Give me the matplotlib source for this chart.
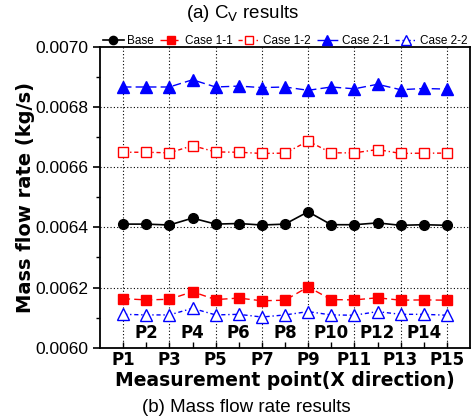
import matplotlib
matplotlib.use("Agg")
import matplotlib.pyplot as plt
import numpy as np

points = list(range(1, 16))
point_labels = [f"P{i}" for i in points]
base = [0.006411, 0.006411, 0.006408, 0.006431, 0.006411, 0.006413, 0.006408, 0.006411,
        0.006452, 0.006409, 0.006409, 0.006415, 0.006407, 0.006409, 0.006407]
case11 = [0.006163, 0.006159, 0.006161, 0.006186, 0.006160, 0.006165, 0.006156, 0.006158,
          0.006202, 0.006160, 0.006159, 0.006166, 0.006158, 0.006159, 0.006158]
case12 = [0.006650, 0.006650, 0.006648, 0.006672, 0.006651, 0.006650, 0.006646, 0.006647,
          0.006687, 0.006648, 0.006648, 0.006659, 0.006646, 0.006647, 0.006647]
case21 = [0.006867, 0.006867, 0.006867, 0.006891, 0.006867, 0.006870, 0.006865, 0.006867,
          0.006856, 0.006867, 0.006861, 0.006876, 0.006858, 0.006862, 0.006860]
case22 = [0.006111, 0.006109, 0.006109, 0.006131, 0.006109, 0.006111, 0.006102, 0.006109,
          0.006120, 0.006109, 0.006108, 0.006120, 0.006111, 0.006111, 0.006108]
yticks = [0.0060, 0.0062, 0.0064, 0.0066, 0.0068, 0.0070]

fig = plt.figure(figsize=(4.76, 4.18), dpi=100)
ax = fig.add_axes([100/476, 1-347.7/418, 370/476, 300.7/418])

ax.plot(points, base, color="black", ls="-", lw=1.2, marker="o", ms=7, label="Base")
ax.plot(points, case11, color="red", ls=(0, (5, 3)), lw=1.0, marker="s", ms=6.5, label="Case 1-1")
ax.plot(points, case12, color="red", ls=(0, (3, 2, 1, 2)), lw=1.0, marker="s", ms=6.5,
        mfc="white", mec="red", label="Case 1-2")
ax.plot(points, case21, color="blue", ls=(0, (6, 3)), lw=1.0, marker="^", ms=8, label="Case 2-1")
ax.plot(points, case22, color="blue", ls=(0, (3, 2, 1, 2)), lw=1.0, marker="^", ms=8,
        mfc="white", mec="blue", label="Case 2-2")

ax.set_xlim(0, 16)
ax.set_ylim(0.0060, 0.0070)
ax.set_yticks(yticks)
ax.set_yticklabels([f"{v:.4f}" for v in yticks], fontsize=12.5, family="Liberation Sans")
ax.set_yticks(np.arange(0.0061, 0.0070, 0.0002), minor=True)
ax.tick_params(axis="y", which="major", direction="out", length=5, width=1.2)
ax.tick_params(axis="y", which="minor", direction="out", length=3, width=1.0)

ax.set_xticks(points)
ax.set_xticklabels([])
ax.tick_params(axis="x", which="major", direction="in", length=4, width=1.0)
for p, lab in zip(points, point_labels):
    if p % 2 == 1:
        ax.text(p, -0.012, lab, transform=ax.get_xaxis_transform(), ha="center", va="top",
                fontsize=12, fontweight="bold")
        ax.axvline(p, color="black", ls=(0, (1, 2)), lw=0.8, zorder=0)
    else:
        ax.text(p, 0.02, lab, transform=ax.get_xaxis_transform(), ha="center", va="bottom",
                fontsize=12, fontweight="bold")
for v in yticks[1:-1]:
    ax.axhline(v, color="black", ls=(0, (1, 2)), lw=0.8, zorder=0)

for s in ax.spines.values():
    s.set_linewidth(1.3)

ax.set_ylabel("Mass flow rate (kg/s)", fontsize=14, fontweight="bold", labelpad=0)
fig.text(285/476, 1-381/418, "Measurement point(X direction)", ha="center", va="center",
         fontsize=13.5, fontweight="bold")
fig.text(243/476, 1-14/418, r"(a) C$_\mathrm{V}$ results", ha="center", va="center",
         fontsize=13.5, family="Liberation Sans")
fig.text(246/476, 1-407/418, "(b) Mass flow rate results", ha="center", va="center",
         fontsize=13.5, family="Liberation Sans")

leg = ax.legend(loc="lower center", bbox_to_anchor=(0.5, 0.985), ncol=5, frameon=False,
                prop={"family": "Liberation Sans", "size": 8.5}, handlelength=1.8,
                handletextpad=0.3, columnspacing=0.5, borderaxespad=0.0, markerscale=0.85)

fig.savefig("out.png", dpi=100)
